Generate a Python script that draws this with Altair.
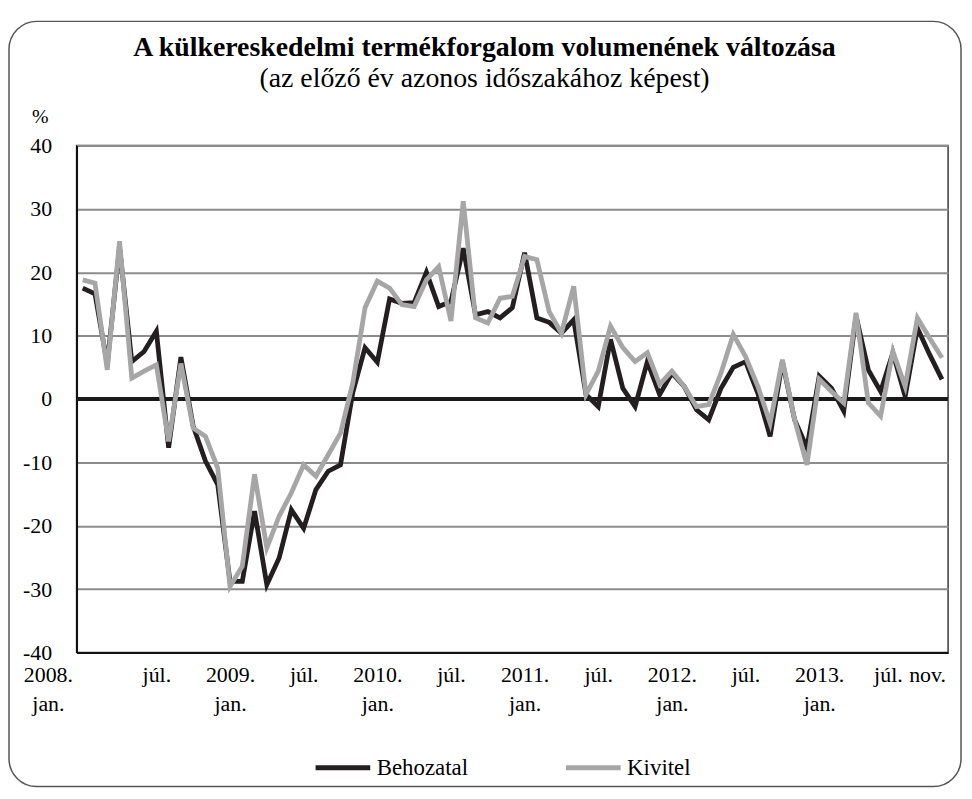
import json
import altair as alt
import pandas as pd

# ---- data ----
months = list(range(71))  # 0 = 2008 jan ... 70 = 2013 nov
behozatal = [17.5, 16.6, 5.5, 24.0, 5.9, 7.5, 10.7, -7.7, 6.6, -4.3,
             -9.8, -13.5, -28.8, -28.8, -17.7, -29.3, -25.1, -17.5, -20.4, -14.3,
             -11.4, -10.4, 1.0, 8.1, 5.8, 15.8, 15.1, 15.2, 20.0, 14.6,
             15.4, 23.8, 13.3, 13.8, 12.8, 14.4, 23.1, 12.8, 12.1, 10.4,
             12.5, 0.7, -1.2, 9.4, 1.7, -1.2, 5.9, 0.7, 4.1, 2.0,
             -1.7, -3.3, 1.7, 5.0, 5.9, 0.9, -5.9, 5.9, -3.3, -7.7,
             3.6, 1.7, -1.9, 13.1, 4.6, 1.2, 7.3, 0.4, 11.2, 7.0, 3.1]
kivitel = [18.8, 18.3, 4.6, 24.9, 3.3, 4.4, 5.4, -6.7, 5.6, -4.6,
           -5.9, -10.9, -29.6, -26.4, -11.9, -23.5, -18.5, -14.8, -10.4, -12.2,
           -8.8, -5.4, 2.5, 14.4, 18.6, 17.5, 14.9, 14.6, 18.8, 20.9,
           12.3, 31.2, 12.8, 12.0, 15.9, 16.2, 22.5, 22.0, 13.8, 10.4,
           17.8, 0.7, 4.4, 11.5, 8.1, 5.9, 7.3, 2.3, 4.4, 2.0,
           -1.2, -0.9, 4.1, 10.2, 6.7, 2.0, -3.8, 6.2, -3.3, -10.4,
           3.1, 1.2, -0.6, 13.6, -0.6, -2.7, 7.5, 2.0, 12.8, 9.6, 6.5]
series_names = ["Behozatal", "Kivitel"]
series_colors = ["#231f20", "#a6a6a6"]
tick_idx = [0, 6, 12, 18, 24, 30, 36, 42, 48, 54, 60, 66, 70]
tick_text = ["2008.|jan.", "júl.", "2009.|jan.", "júl.", "2010.|jan.", "júl.",
             "2011.|jan.", "júl.", "2012.|jan.", "júl.", "2013.|jan.", "júl.", "nov."]
y_ticks = [-40, -30, -20, -10, 0, 10, 20, 30, 40]

df = pd.DataFrame({
    "i": months * 2,
    "v": behozatal + kivitel,
    "s": [series_names[0]] * len(months) + [series_names[1]] * len(months),
})

FONT = "Liberation Serif"

label_expr = ""
for idx, txt in zip(tick_idx, tick_text):
    label_expr += f"datum.value == {idx} ? {json.dumps(txt.split('|'), ensure_ascii=False)} : "
label_expr += "''"

xscale = alt.Scale(domain=[-0.5, 70.5], nice=False, zero=False)
yscale = alt.Scale(domain=[-40, 40], nice=False)

frame = alt.Chart(pd.DataFrame({"a": [0]})).mark_rect(
    filled=False, stroke="#555555", strokeWidth=1.5, cornerRadius=28
).encode(x=alt.value(-68), x2=alt.value(890), y=alt.value(-125), y2=alt.value(645))

zero = alt.Chart(pd.DataFrame({"z": [0]})).mark_rule(
    color="#1a1a1a", strokeWidth=4
).encode(y=alt.Y("z:Q", scale=yscale))

lines = alt.Chart(df).mark_line(strokeWidth=4.8).encode(
    x=alt.X("i:Q", scale=xscale,
            axis=alt.Axis(values=tick_idx, labelExpr=label_expr, title=None, grid=False,
                          ticks=False, domainColor="#111111", domainWidth=2,
                          labelFontSize=22, labelPadding=12, labelLineHeight=29,
                          labelOverlap=False, labelBaseline="top",
                          labelOffset={"condition": [
                              {"test": "datum.value == 0", "value": -35},
                              {"test": "datum.value == 66", "value": -5},
                              {"test": "datum.value == 70", "value": -15}],
                              "value": 0})),
    y=alt.Y("v:Q", scale=yscale,
            axis=alt.Axis(values=y_ticks, labelExpr="'' + datum.value",
                          title="%", titleAngle=0, titleX=-37, titleY=-29,
                          titleAlign="center", titleBaseline="middle", titleFontWeight="normal",
                          titleFontSize=20, grid=True, ticks=False, domainColor="#111111",
                          domainWidth=2, labelFontSize=22, labelPadding=25)),
    color=alt.Color("s:N", scale=alt.Scale(domain=series_names, range=series_colors),
                    legend=alt.Legend(title=None, orient="none", direction="horizontal",
                                      legendX=238, legendY=596, symbolType="stroke",
                                      symbolSize=3025, symbolStrokeWidth=5,
                                      labelFont=FONT, labelFontSize=23, labelColor="black",
                                      labelOffset=4, columnPadding=88)),
)

chart = alt.layer(frame, zero, lines).properties(
    width=877, height=510,
    padding={"left": 69, "top": 136, "right": 16, "bottom": 137},
    autosize=alt.AutoSizeParams(type="none"),
    title=alt.TitleParams(
        text="A külkereskedelmi termékforgalom volumenének változása",
        subtitle="(az előző év azonos időszakához képest)",
        font=FONT, fontSize=28, fontWeight="bold", color="black",
        subtitleFont=FONT, subtitleFontSize=28, subtitleColor="black",
        anchor="middle", dx=-28, offset=-73, subtitlePadding=3,
    ),
).configure_view(stroke="#3a3a3a", strokeWidth=1.5).configure_axis(
    labelFont=FONT, titleFont=FONT, labelColor="black", titleColor="black",
    gridColor="#8c8c8c", gridWidth=2,
)

chart.save("out.html", embed_options={"renderer": "svg", "actions": False})
